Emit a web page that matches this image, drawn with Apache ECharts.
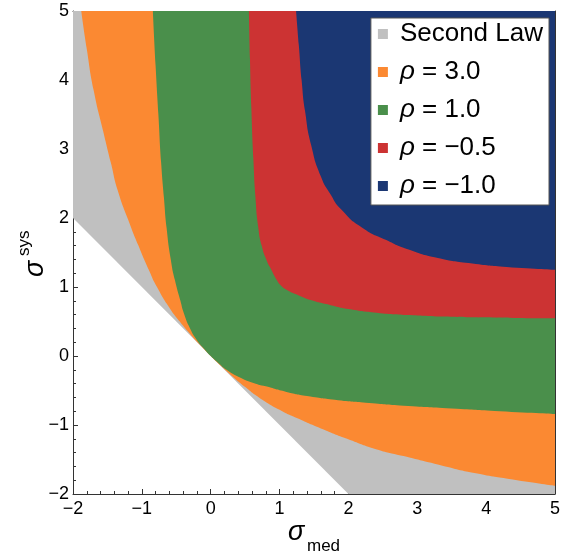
<!DOCTYPE html>
<html>
<head>
    <meta charset="utf-8">
    <script src="https://cdn.jsdelivr.net/npm/echarts@6/dist/echarts.min.js"></script>
    <style>
        body { margin: 0; background: #fff; }
    </style>
</head>
<body>
    <div id="main" style="width: 566px;height:558px;"></div>
    <script type="text/javascript">
        // lower edge of each allowed region, [sigma_med, sigma_sys]; region is everything above it
        var secondLaw = [[-2, 2], [2, -2], [5, -2]];
        var rho3 = [[-1.88, 5.0], [-1.8, 4.45], [-1.7, 3.85], [-1.56, 3.25], [-1.45, 2.8], [-1.35, 2.4],
            [-1.2, 1.98], [-1.05, 1.6], [-0.9, 1.25], [-0.78, 1.0], [-0.6, 0.7], [-0.45, 0.5],
            [-0.3, 0.32], [-0.15, 0.155], [0, 0], [0.155, -0.15], [0.32, -0.3], [0.5, -0.45],
            [0.7, -0.6], [1.0, -0.78], [1.25, -0.9], [1.6, -1.05], [1.98, -1.2], [2.4, -1.35],
            [2.8, -1.45], [3.25, -1.56], [3.85, -1.7], [4.45, -1.8], [5.0, -1.88]];
        var rho1 = [[-0.84, 5.0], [-0.8, 4.2], [-0.76, 3.5], [-0.72, 2.8], [-0.68, 2.3], [-0.64, 1.85],
            [-0.58, 1.4], [-0.52, 1.1], [-0.44, 0.8], [-0.39, 0.62], [-0.3, 0.4], [-0.2, 0.23],
            [-0.1, 0.11], [0, 0], [0.11, -0.1], [0.23, -0.2], [0.4, -0.3], [0.62, -0.39],
            [0.8, -0.44], [1.1, -0.52], [1.4, -0.58], [1.85, -0.64], [2.3, -0.68], [2.8, -0.72],
            [3.5, -0.76], [4.2, -0.8], [5.0, -0.84]];
        var rhoM05 = [[0.555, 5.0], [0.57, 4.3], [0.59, 3.6], [0.62, 2.85], [0.65, 2.3], [0.69, 1.87],
            [0.74, 1.6], [0.81, 1.39], [0.88, 1.25], [0.96, 1.1], [1.02, 1.02], [1.1, 0.96],
            [1.25, 0.89], [1.45, 0.81], [1.73, 0.74], [2.0, 0.68], [2.46, 0.62], [2.85, 0.594],
            [3.33, 0.572], [3.81, 0.561], [4.4, 0.552], [5.0, 0.546]];
        var rhoM1 = [[1.24, 5.0], [1.28, 4.5], [1.32, 4.0], [1.37, 3.55], [1.46, 3.05], [1.6, 2.6],
            [1.73, 2.36], [1.9, 2.12], [2.2, 1.86], [2.55, 1.68], [2.85, 1.55], [3.3, 1.42],
            [3.8, 1.34], [4.3, 1.29], [5.0, 1.25]];

        var names = ['Second Law', 'ρ = 3.0', 'ρ = 1.0', 'ρ = −0.5', 'ρ = −1.0'];
        var colors = ['#c0c0c0', '#fb8932', '#4a8f4b', '#cc3333', '#1b3773'];
        var bounds = [secondLaw, rho3, rho1, rhoM05, rhoM1];

        var font = '"Liberation Sans", Arial, sans-serif';
        function tickLabel(v) { return String(v).replace('-', '\u2212'); }

        function axis(pos, labels) {
            return {
                type: 'value', position: pos, min: -2, max: 5, interval: 1,
                splitLine: { show: false },
                axisLine: { show: true, onZero: false, lineStyle: { color: '#333', width: 1 } },
                axisTick: { show: true, inside: true, length: 5, lineStyle: { color: '#333' } },
                minorTick: { show: true, splitNumber: 5, length: 3, lineStyle: { color: '#333' } },
                axisLabel: {
                    show: labels, formatter: tickLabel, color: '#000', fontSize: 18,
                    fontFamily: font, margin: (pos === 'left' ? 4 : 6)
                }
            };
        }

        var series = [];
        for (var i = 0; i < bounds.length; i++) {
            series.push({
                name: names[i], type: 'line', data: bounds[i],
                symbol: 'none', color: colors[i],
                smooth: i === 0 ? false : 0.6,
                lineStyle: { width: 0, opacity: 0 },
                areaStyle: { origin: 'end', color: colors[i], opacity: 1 },
                silent: true, animation: false
            });
        }

        var chart = echarts.init(document.getElementById('main'));
        var option = {
            animation: false,
            grid: { left: 73, right: 11, top: 11, bottom: 64 },
            xAxis: [axis('bottom', true), axis('top', false)],
            yAxis: [axis('left', true), axis('right', false)],
            legend: {
                orient: 'vertical', right: 17, top: 18,
                data: names, icon: 'rect', itemWidth: 10, itemHeight: 10, itemGap: 12,
                backgroundColor: '#fff', borderColor: '#555', borderWidth: 1,
                padding: [3, 6, 6, 7], selectedMode: false,
                itemStyle: { borderWidth: 0 },
                formatter: function (n) {
                    return n.charAt(0) === 'ρ' ? '{i|ρ}' + n.slice(1) : n;
                },
                textStyle: {
                    fontSize: 26, fontFamily: font, color: '#000', padding: [0, 0, 0, 7],
                    rich: { i: { fontSize: 26, fontFamily: font, fontStyle: 'italic', color: '#000' } }
                }
            },
            graphic: [
                { type: 'text', x: 288, y: 532, style: { text: 'σ', fontSize: 27, fontStyle: 'italic', fontFamily: font, fill: '#000', align: 'left', verticalAlign: 'middle' } },
                { type: 'text', x: 307, y: 546, style: { text: 'med', fontSize: 17, fontFamily: font, fill: '#000', align: 'left', verticalAlign: 'middle' } },
                { type: 'text', x: 35, y: 277, rotation: Math.PI / 2, style: { text: 'σ', fontSize: 27, fontStyle: 'italic', fontFamily: font, fill: '#000', align: 'left', verticalAlign: 'middle' } },
                { type: 'text', x: 24, y: 256, rotation: Math.PI / 2, style: { text: 'sys', fontSize: 17, fontFamily: font, fill: '#000', align: 'left', verticalAlign: 'middle' } }
            ],
            series: series
        };
        chart.setOption(option);
    </script>
</body>
</html>
